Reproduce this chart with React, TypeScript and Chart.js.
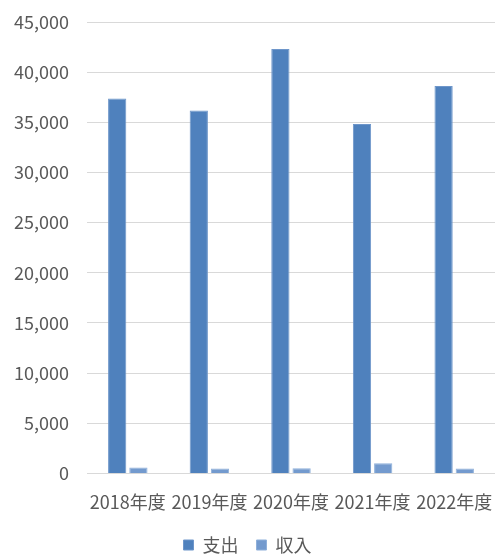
import React, { useEffect, useRef } from "react";
import { Chart, registerables } from "chart.js";

Chart.register(...registerables);

const categories = ["2018年度", "2019年度", "2020年度", "2021年度", "2022年度"];
const expenditure = [37370, 36180, 42310, 34830, 38620];
const income = [600, 480, 520, 1000, 500];
const seriesNames = ["支出", "収入"];

const FONT = "'Noto Sans CJK JP', 'Liberation Sans', sans-serif";

export default function App() {
  const ref = useRef<HTMLCanvasElement | null>(null);
  useEffect(() => {
    document.body.style.margin = "0";
    const ctx = ref.current!;
    const chart = new Chart(ctx, {
      type: "bar",
      data: {
        labels: categories,
        datasets: [
          {
            label: seriesNames[0],
            data: expenditure,
            backgroundColor: "#4F81BD",
            borderColor: "#6E96CA",
            borderWidth: 1,
            categoryPercentage: 0.52,
            barPercentage: 0.86,
          },
          {
            label: seriesNames[1],
            data: income,
            backgroundColor: "#739ACE",
            borderColor: "#8FB0DA",
            borderWidth: 1,
            categoryPercentage: 0.52,
            barPercentage: 0.86,
          },
        ],
      },
      options: {
        animation: false,
        responsive: false,
        maintainAspectRatio: false,
        layout: { padding: { left: 0, right: 1, top: 22, bottom: -9 } },
        plugins: {
          tooltip: { enabled: false },
          legend: {
            position: "bottom",
            labels: {
              boxWidth: 10,
              boxHeight: 10,
              padding: 18,
              color: "#595959",
              font: { family: FONT, size: 18 },
            },
          },
        },
        scales: {
          x: {
            grid: { display: false },
            border: { display: false },
            ticks: {
              color: "#595959",
              font: { family: FONT, size: 18 },
              maxRotation: 0,
              autoSkip: false,
              padding: 10,
            },
            afterFit: (s: any) => {
              s.paddingLeft = 0;
              s.paddingRight = 0;
              s.height = s.height - 5;
            },
          },
          y: {
            min: 0,
            max: 45000,
            grid: { color: "#D9D9D9", lineWidth: 1, drawTicks: false },
            border: { display: false },
            ticks: {
              stepSize: 5000,
              color: "#595959",
              font: { family: FONT, size: 18 },
              padding: 18,
              callback: (v: any) => Number(v).toLocaleString("en-US"),
            },
            afterFit: (s: any) => {
              s.width = 87;
              s.paddingTop = 0;
              s.paddingBottom = 0;
            },
          },
        },
      },
    });
    return () => chart.destroy();
  }, []);
  return <canvas ref={ref} width={496} height={555} style={{ display: "block" }} />;
}
